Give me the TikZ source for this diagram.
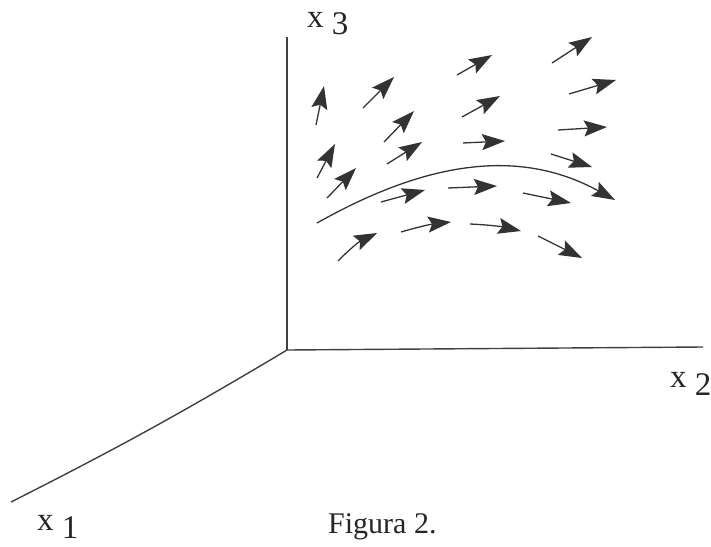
\documentclass[tikz,border=0pt]{standalone}
\usepackage{fontspec}
\setmainfont{Liberation Serif}
\usetikzlibrary{arrows.meta}

\begin{document}
\begin{tikzpicture}[x=1pt,y=-1pt,
  axis/.style={line width=1.4pt, black!75},
  vec/.style={line width=1.3pt, black!80, -{Stealth[length=23pt,width=16pt,inset=4pt]}},
  lbl/.style={anchor=base west, font=\fontsize{33}{33}\selectfont, text=black!85, inner sep=0pt}]
  \useasboundingbox (0,0) rectangle (711,546);
  % axes
  \coordinate (O) at (287,350);
  \coordinate (X1) at (11,502);
  \coordinate (X2) at (703,347);
  \coordinate (X3) at (287,37);
  \draw[axis] (O) -- (X3);
  \draw[axis] (O) -- (X2);
  \draw[axis] (O) to[bend left=2] (X1);
  \node[lbl] (l3) at (307,27) {x \raisebox{-8pt}{3}};
  \node[lbl] (l2) at (670,387) {x \raisebox{-8pt}{2}};
  \node[lbl] (l1) at (37,530) {x \raisebox{-8pt}{1}};
  \node[lbl, font=\fontsize{30}{30}\selectfont] (cap) at (328,533) {Figura 2.};
  % field
  \draw[vec] (552,63) -- (592,37);
  \draw[vec] (457,75) -- (492,55);
  \draw[vec] (569,94) -- (616,80);
  \draw[vec] (363,108) -- (394,77);
  \draw[vec] (316,125) -- (324,86);
  \draw[vec] (462,117) -- (500,96);
  \draw[vec] (384,142) -- (414,111);
  \draw[vec] (558,130) -- (607,127);
  \draw[vec] (463,143) -- (505,141);
  \draw[vec] (317,178) -- (335,144);
  \draw[vec] (387,164) -- (422,142);
  \draw[vec] (551,154) -- (592,167);
  \draw[vec] (327,198) -- (356,168);
  \draw[vec] (381,202) -- (425,190);
  \draw[vec] (448,188) -- (497,186);
  \draw[vec] (523,193) -- (571,203);
  \draw[vec] (338,261) to[bend left=10] (377,233);
  \draw[vec] (401,232) to[bend left=5] (451,222);
  \draw[vec] (470,224) to[bend left=5] (521,231);
  \draw[vec] (538,236) -- (582,258);
  % curve
  \draw[vec] (317,223) .. controls (420,165) and (515,145) .. (615,200);
\end{tikzpicture}
\end{document}
